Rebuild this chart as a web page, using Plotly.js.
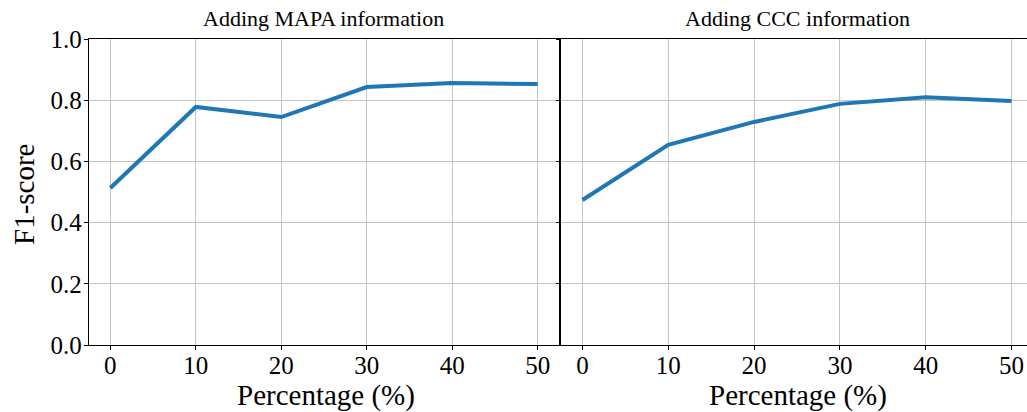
<!DOCTYPE html>
<html>
<head>
<meta charset="utf-8">
<script src="https://cdn.plot.ly/plotly-3.0.1.min.js"></script>
<style>html,body{margin:0;padding:0;background:#fff;}#chart{width:1027px;height:412px;}</style>
</head>
<body>
<div id="chart"></div>
<script>
const percentages = [0, 10, 20, 30, 40, 50];
const mapaF1 = [0.513, 0.778, 0.745, 0.843, 0.856, 0.853];
const cccF1 = [0.474, 0.654, 0.729, 0.788, 0.810, 0.797];
const panelTitles = ["Adding MAPA information", "Adding CCC information"];
const xTitle = "Percentage (%)";
const yTitle = "F1-score";

const W = 1027, H = 412;
const FONT = "Liberation Serif, Times New Roman, serif";
const lineColor = "#1f77b4";
const gridColor = "#c4c4c4";

const traces = [
  {x: percentages, y: mapaF1, xaxis: "x", yaxis: "y", mode: "lines", line: {color: lineColor, width: 4}, hoverinfo: "skip", showlegend: false},
  {x: percentages, y: cccF1, xaxis: "x2", yaxis: "y2", mode: "lines", line: {color: lineColor, width: 4}, hoverinfo: "skip", showlegend: false}
];

const yTop = (H - 39) / H, yBot = (H - 345) / H;
const xAxisCommon = {
  tickvals: percentages, ticktext: percentages.map(String),
  showgrid: true, gridcolor: gridColor, gridwidth: 1, zeroline: false,
  showline: true, linecolor: "#000", linewidth: 1.2,
  ticks: "outside", ticklen: 4, tickcolor: "#000", tickwidth: 1,
  ticklabelstandoff: -6,
  tickfont: {family: FONT, size: 25, color: "#000"}
};
const yAxisCommon = {
  range: [0, 1], dtick: 0.2, tick0: 0, tickformat: ".1f",
  showgrid: true, gridcolor: gridColor, gridwidth: 1, zeroline: false,
  showline: true, linecolor: "#000", linewidth: 1.2,
  ticks: "outside", ticklen: 4, tickcolor: "#000", tickwidth: 1,
  ticklabelstandoff: -3,
  tickfont: {family: FONT, size: 25, color: "#000"},
  domain: [yBot, yTop]
};

const layout = {
  width: W, height: H,
  margin: {l: 0, r: 0, t: 0, b: 0},
  paper_bgcolor: "#fff", plot_bgcolor: "#fff",
  xaxis: Object.assign({}, xAxisCommon, {domain: [89 / W, 559 / W], range: [-2.5, 52.5], anchor: "y", mirror: true}),
  yaxis: Object.assign({}, yAxisCommon, {anchor: "x", mirror: true}),
  xaxis2: Object.assign({}, xAxisCommon, {domain: [561 / W, 1], range: [-2.5, 51.8], anchor: "y2", mirror: true}),
  yaxis2: Object.assign({}, yAxisCommon, {anchor: "x2", showticklabels: false, mirror: false}),
  annotations: [
    {text: panelTitles[0], xref: "paper", yref: "paper", x: 323 / W, y: (H - 19) / H, xanchor: "center", yanchor: "middle", showarrow: false, font: {family: FONT, size: 22, color: "#000"}},
    {text: panelTitles[1], xref: "paper", yref: "paper", x: 797 / W, y: (H - 19) / H, xanchor: "center", yanchor: "middle", showarrow: false, font: {family: FONT, size: 22, color: "#000"}},
    {text: xTitle, xref: "paper", yref: "paper", x: 326 / W, y: (H - 395) / H, xanchor: "center", yanchor: "middle", showarrow: false, font: {family: FONT, size: 29, color: "#000"}},
    {text: xTitle, xref: "paper", yref: "paper", x: 798 / W, y: (H - 395) / H, xanchor: "center", yanchor: "middle", showarrow: false, font: {family: FONT, size: 29, color: "#000"}},
    {text: yTitle, xref: "paper", yref: "paper", x: 24 / W, y: (H - 195) / H, xanchor: "center", yanchor: "middle", textangle: -90, showarrow: false, font: {family: FONT, size: 29, color: "#000"}}
  ]
};

Plotly.newPlot("chart", traces, layout, {displayModeBar: false, staticPlot: true});
</script>
</body>
</html>
